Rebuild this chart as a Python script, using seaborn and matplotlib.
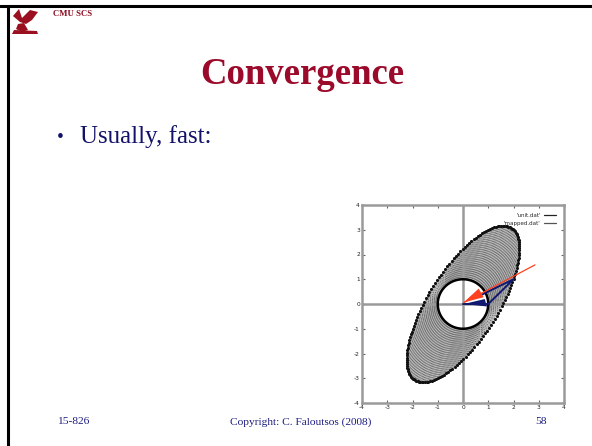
import numpy as np
import pandas as pd
import matplotlib
matplotlib.use("Agg")
import matplotlib.pyplot as plt
from matplotlib.lines import Line2D
from matplotlib.patches import Polygon
from matplotlib.collections import LineCollection
import seaborn as sns

# ---- data -------------------------------------------------------------
MATRIX = [[2.0, 1.0],
          [1.0, 3.0]]            # linear map applied to the unit circle
N_SAMPLES = 160                  # points sampled on the unit circle
START_VEC = [1.0, 0.0]           # first vector of the iteration
MAPPED_VEC = [2.0, 1.0]          # MATRIX @ START_VEC
RED_TAIL = [2.85, 1.58]          # far end of the red direction line
TICKS = [-4, -3, -2, -1, 0, 1, 2, 3, 4]
LEGEND_LABELS = ["'unit.dat'", "'mapped.dat'"]

TITLE = "Convergence"
BULLET = "Usually, fast:"
FOOT_LEFT = "15-826"
FOOT_MID = "Copyright: C. Faloutsos (2008)"
FOOT_RIGHT = "58"

# ---- derived points ---------------------------------------------------
theta = np.linspace(0, 2 * np.pi, N_SAMPLES, endpoint=False)
unit = np.column_stack([np.cos(theta), np.sin(theta)])
mapped = unit @ np.array(MATRIX).T
circle_df = pd.DataFrame({"x": np.append(unit[:, 0], unit[0, 0]),
                          "y": np.append(unit[:, 1], unit[0, 1]),
                          "set": LEGEND_LABELS[0]})
mapped_df = pd.DataFrame({"x": mapped[:, 0], "y": mapped[:, 1],
                          "set": LEGEND_LABELS[1]})

sns.set_theme(style="white")
plt.rcParams["font.family"] = ["Liberation Serif", "DejaVu Serif"]

W, H = 592, 446
fig = plt.figure(figsize=(W / 100, H / 100), dpi=100)
fig.patch.set_facecolor("white")

def fx(px):
    return px / W

def fy(py):
    return 1 - py / H

# slide frame: top and left rules
fig.add_artist(Line2D([0, 1], [fy(6), fy(6)], color="black", lw=2.2))
fig.add_artist(Line2D([fx(8), fx(8)], [fy(6), 0], color="black", lw=2.2))

# header logo (stylised dragon) and label
logo = fig.add_axes([fx(10), fy(36), fx(30), 28 / H])
logo.set_xlim(0, 30)
logo.set_ylim(0, 28)
logo.axis("off")
red = "#9b1020"
for pts in ([(3, 20), (9, 27), (12, 18), (20, 26), (28, 24), (22, 16),
             (16, 12), (10, 14)],
            [(8, 12), (14, 13), (18, 6), (12, 4), (6, 7)],
            [(2, 2), (28, 2), (27, 5), (4, 6)]):
    logo.add_patch(Polygon(pts, closed=True, color=red, lw=0))
fig.text(fx(53), fy(14), "CMU SCS", color="#8b0a1f", fontsize=6.3,
         fontweight="bold", va="center", ha="left")

# title and bullet
fig.text(fx(302), fy(74), TITLE, color="#9b0a2a", fontsize=26.5,
         fontweight="bold", ha="center", va="center")
fig.text(fx(60), fy(137), "\u2022", color="#121268", fontsize=14,
         ha="center", va="center")
fig.text(fx(80), fy(137), BULLET, color="#121268", fontsize=18,
         ha="left", va="center")

# footer
foot = dict(color="#1c1c80", fontsize=8.2, va="center")
fig.text(fx(57), fy(422), FOOT_LEFT, ha="left", **foot)
fig.text(fx(301), fy(422), FOOT_MID, ha="center", **foot)
fig.text(fx(547), fy(422), FOOT_RIGHT, ha="right", **foot)

# ---- the plot ---------------------------------------------------------
ax = fig.add_axes([fx(362), fy(403), fx(202), 198 / H])
ax.set_facecolor("white")

# shaded band swept by the segments, circle interior left clear
ax.add_patch(Polygon(mapped, closed=True, color="#bdbdbd", lw=0, zorder=0))
ax.add_patch(Polygon(unit, closed=True, color="white", lw=0, zorder=0.5))

# segments joining each unit-circle point to its image
segs = np.stack([unit, mapped], axis=1)
ax.add_collection(LineCollection(segs, colors="#6a6a6a", linewidths=0.8,
                                 linestyles=(0, (1.0, 1.0)), zorder=1))

ax.axhline(0, color="#9a9a9a", lw=1.8, zorder=2)
ax.axvline(0, color="#9a9a9a", lw=1.8, zorder=2)

sns.scatterplot(data=mapped_df, x="x", y="y", color="#111111", s=5,
                linewidth=0, ax=ax, zorder=3, legend=False)
sns.lineplot(data=circle_df, x="x", y="y", sort=False, estimator=None,
             color="black", lw=1.8, ax=ax, zorder=4, legend=False)

# red direction line with its head at the origin
ax.plot([RED_TAIL[0], 0.02], [RED_TAIL[1], 0.05], color="#ff4020", lw=0.9,
        zorder=6)
d = np.array(RED_TAIL) / np.hypot(*RED_TAIL)
nrm = np.array([-d[1], d[0]])
tip = np.array([0.02, 0.06])
base = tip + d * 0.8
ax.add_patch(Polygon([tip, base + nrm * 0.2, base - nrm * 0.2],
                     closed=True, color="#ff4020", lw=0, zorder=6))

# blue iteration path: start vector, its image, and back
ax.plot([0, START_VEC[0], MAPPED_VEC[0], 0.75],
        [0, START_VEC[1], MAPPED_VEC[1], 0.38],
        color="#101870", lw=1.4, zorder=5)
ax.add_patch(Polygon([(0.03, 0.0), (0.86, 0.2), (0.95, -0.1)],
                     closed=True, color="#101870", lw=0, zorder=5))

ax.set_xlim(-4, 4)
ax.set_ylim(-4, 4)
ax.set_xticks(TICKS)
ax.set_yticks(TICKS)
ax.set_xticklabels([str(t) for t in TICKS])
ax.set_yticklabels([str(t) for t in TICKS])
ax.set_xlabel("")
ax.set_ylabel("")
ax.tick_params(direction="in", length=2.5, width=0.8, color="#666666",
               labelsize=4.2, labelcolor="#222222", pad=1.5,
               top=True, right=True, bottom=True, left=True)
for lab in ax.get_xticklabels() + ax.get_yticklabels():
    lab.set_family("DejaVu Sans")
for sp in ax.spines.values():
    sp.set_color("#9a9a9a")
    sp.set_linewidth(1.8)

handles = [Line2D([], [], color="#222222", lw=0.9),
           Line2D([], [], color="#555555", lw=0.9)]
leg = ax.legend(handles, LEGEND_LABELS, loc="upper right", frameon=False,
                prop={"family": "DejaVu Sans", "size": 4.0},
                handlelength=2.2, handletextpad=0.6, markerfirst=False,
                borderaxespad=1.0, labelspacing=0.5)

fig.savefig("out.png", dpi=100, facecolor="white")
